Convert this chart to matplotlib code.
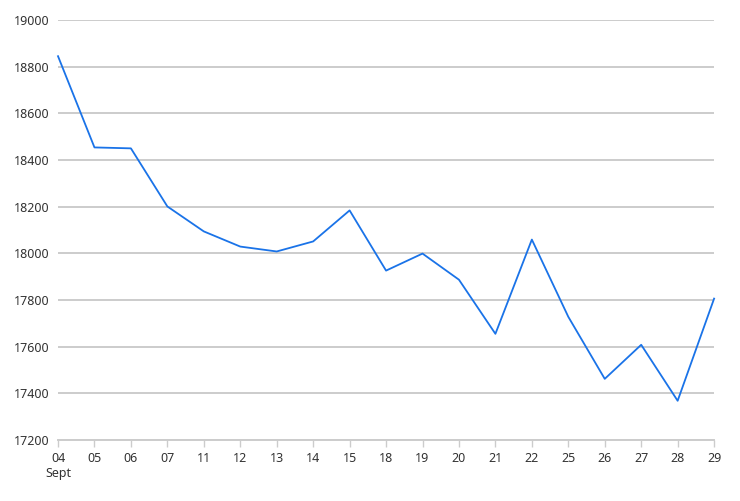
import matplotlib.pyplot as plt

days = ['04', '05', '06', '07', '11', '12', '13', '14', '15', '18',
        '19', '20', '21', '22', '25', '26', '27', '28', '29']
values = [18845, 18454, 18450, 18201, 18094, 18029, 18008, 18051, 18184, 17926,
          17999, 17887, 17655, 18059, 17728, 17462, 17608, 17368, 17806]
yticks = [17200, 17400, 17600, 17800, 18000, 18200, 18400, 18600, 18800, 19000]

plt.rcParams['font.family'] = ['Noto Sans', 'DejaVu Sans']

fig = plt.figure(figsize=(7.40, 5.01), dpi=100)
ax = fig.add_axes([0.0784, 0.1218, 0.8866, 0.8382])

x = list(range(len(days)))
ax.plot(x, values, color='#1a73e8', linewidth=1.3, zorder=3, clip_on=False)

ax.set_xlim(0, len(days) - 1)
ax.set_ylim(17200, 19000)
ax.set_yticks(yticks)
ax.set_yticklabels([str(v) for v in yticks])
ax.set_xticks(x)
labels = list(days)
labels[0] = '04\nSept'
ax.set_xticklabels(labels)

ax.grid(axis='y', color='#cccccc', linewidth=1.4)
ax.set_axisbelow(True)
for s in ['top', 'right', 'left']:
    ax.spines[s].set_visible(False)
ax.spines['bottom'].set_color('#cccccc')
ax.spines['bottom'].set_linewidth(1.4)

ax.tick_params(axis='y', length=0, pad=6, labelsize=9, labelcolor='#333333')
ax.tick_params(axis='x', length=5, width=1, color='#cccccc', pad=4,
               labelsize=9, labelcolor='#333333')
for t in ax.get_xticklabels():
    t.set_verticalalignment('top')
    t.set_multialignment('center')

fig.savefig('out.png', dpi=100)
